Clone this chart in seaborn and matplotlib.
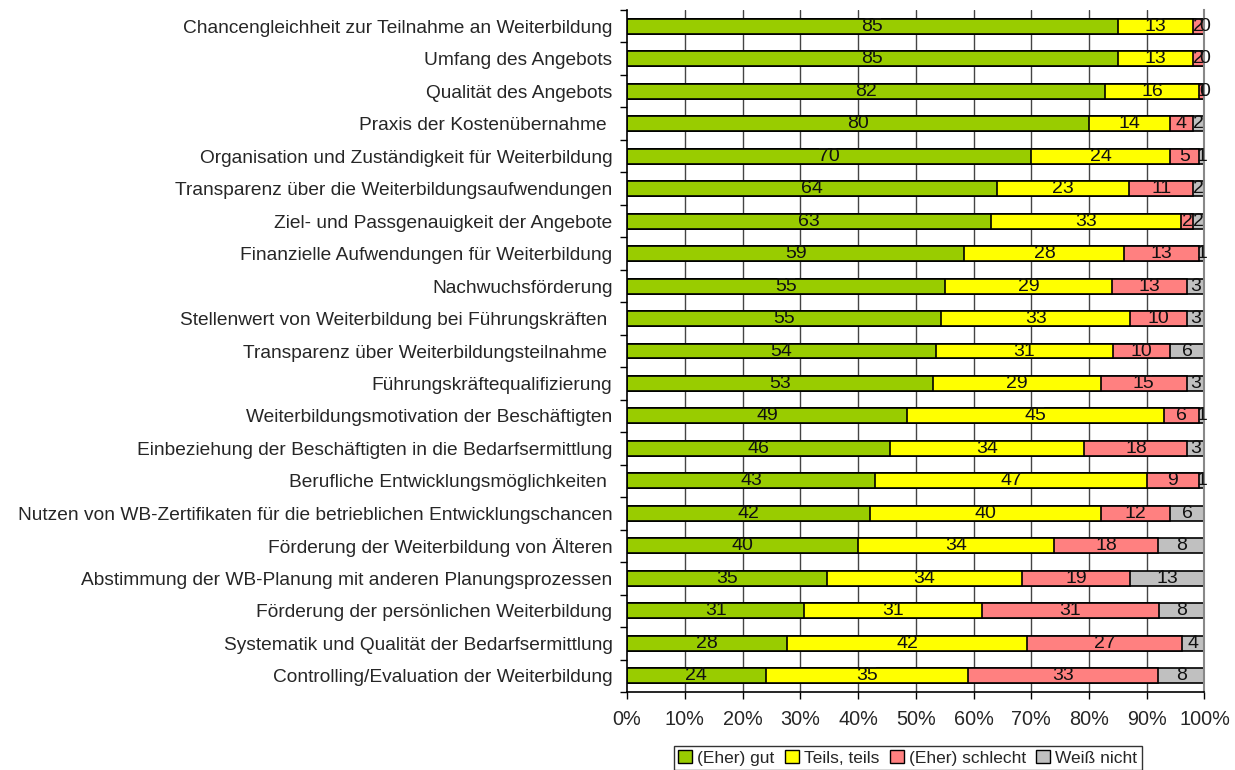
import numpy as np
import pandas as pd
import seaborn as sns
import matplotlib.pyplot as plt
from matplotlib.patches import Patch

categories = [
    "Chancengleichheit zur Teilnahme an Weiterbildung",
    "Umfang des Angebots",
    "Qualität des Angebots",
    "Praxis der Kostenübernahme ",
    "Organisation und Zuständigkeit für Weiterbildung",
    "Transparenz über die Weiterbildungsaufwendungen",
    "Ziel- und Passgenauigkeit der Angebote",
    "Finanzielle Aufwendungen für Weiterbildung",
    "Nachwuchsförderung",
    "Stellenwert von Weiterbildung bei Führungskräften ",
    "Transparenz über Weiterbildungsteilnahme ",
    "Führungskräftequalifizierung",
    "Weiterbildungsmotivation der Beschäftigten",
    "Einbeziehung der Beschäftigten in die Bedarfsermittlung",
    "Berufliche Entwicklungsmöglichkeiten ",
    "Nutzen von WB-Zertifikaten für die betrieblichen Entwicklungschancen",
    "Förderung der Weiterbildung von Älteren",
    "Abstimmung der WB-Planung mit anderen Planungsprozessen",
    "Förderung der persönlichen Weiterbildung",
    "Systematik und Qualität der Bedarfsermittlung",
    "Controlling/Evaluation der Weiterbildung",
]
gut      = [85, 85, 82, 80, 70, 64, 63, 59, 55, 55, 54, 53, 49, 46, 43, 42, 40, 35, 31, 28, 24]
teils    = [13, 13, 16, 14, 24, 23, 33, 28, 29, 33, 31, 29, 45, 34, 47, 40, 34, 34, 31, 42, 35]
schlecht = [2, 2, 1, 4, 5, 11, 2, 13, 13, 10, 10, 15, 6, 18, 9, 12, 18, 19, 31, 27, 33]
weiss    = [0, 0, 0, 2, 1, 2, 2, 1, 3, 3, 6, 3, 1, 3, 1, 6, 8, 13, 8, 4, 8]

series_names = ["(Eher) gut", "Teils, teils", "(Eher) schlecht", "Weiß nicht"]
series_colors = ["#99CC00", "#FFFF00", "#FF8080", "#C0C0C0"]

sns.set_theme(style="white")
plt.rcParams["font.family"] = ["Liberation Sans", "DejaVu Sans"]

raw = np.array([gut, teils, schlecht, weiss], dtype=float)
totals = raw.sum(axis=0)
share = raw / totals * 100.0
cum = np.cumsum(share, axis=0)

fig = plt.figure(figsize=(12.35, 7.7), dpi=100)
ax = fig.add_axes([0.5077, 0.1013, 0.4676, 0.8857])

fs_cat = 13.8
fs_tick = 14.3
fs_val = 14
fs_leg = 12.5
bar_w = 0.46

# vertical gridlines behind the bars
for v in range(10, 100, 10):
    ax.axvline(v, color="#444444", lw=1.0, zorder=0)

# stacked layers: draw cumulative extents from the outermost inward
for k in range(3, -1, -1):
    df = pd.DataFrame({"cat": categories, "val": cum[k]})
    sns.barplot(data=df, x="val", y="cat", orient="h", color=series_colors[k],
                saturation=1, edgecolor="black", linewidth=1.2, width=bar_w,
                ax=ax, zorder=2)

# value labels centred on each segment
for i in range(len(categories)):
    for k in range(4):
        start = cum[k - 1][i] if k > 0 else 0.0
        mid = start + share[k][i] / 2
        ax.text(mid, i, f"{int(raw[k][i])}", ha="center", va="center",
                fontsize=fs_val, color="#111111", zorder=5)

ax.set_xlim(0, 100)
ax.set_ylim(len(categories) - 0.5, -0.5)
ax.set_xlabel("")
ax.set_ylabel("")
ax.set_xticks(np.arange(0, 101, 10))
ax.set_xticklabels([f"{v}%" for v in range(0, 101, 10)], fontsize=fs_tick)
ax.set_yticks(np.arange(len(categories)))
ax.set_yticklabels(categories, fontsize=fs_cat)
ax.set_yticks(np.arange(-0.5, len(categories), 1), minor=True)
ax.tick_params(axis="y", which="major", length=0, pad=10.5)
ax.tick_params(axis="y", which="minor", length=5, width=1, color="black", direction="out", left=True)
ax.tick_params(axis="x", which="major", length=5, width=1, color="black", direction="out",
               bottom=True, pad=8)

for side in ["left", "bottom"]:
    ax.spines[side].set_color("black")
    ax.spines[side].set_linewidth(1.2)
ax.spines["right"].set_color("#888888")
ax.spines["right"].set_linewidth(1.5)
ax.spines["top"].set_visible(False)

handles = [Patch(facecolor=c, edgecolor="black", linewidth=1) for c in series_colors]
leg = fig.legend(handles, series_names, loc="lower center", bbox_to_anchor=(0.735, 0.0),
                 ncol=4, fontsize=fs_leg, frameon=True, fancybox=False, edgecolor="black",
                 handlelength=0.8, handleheight=0.8, handletextpad=0.3, columnspacing=0.6,
                 borderpad=0.25, borderaxespad=0.0)
leg.get_frame().set_linewidth(1.0)

fig.savefig("out.png", dpi=100, facecolor="white")
